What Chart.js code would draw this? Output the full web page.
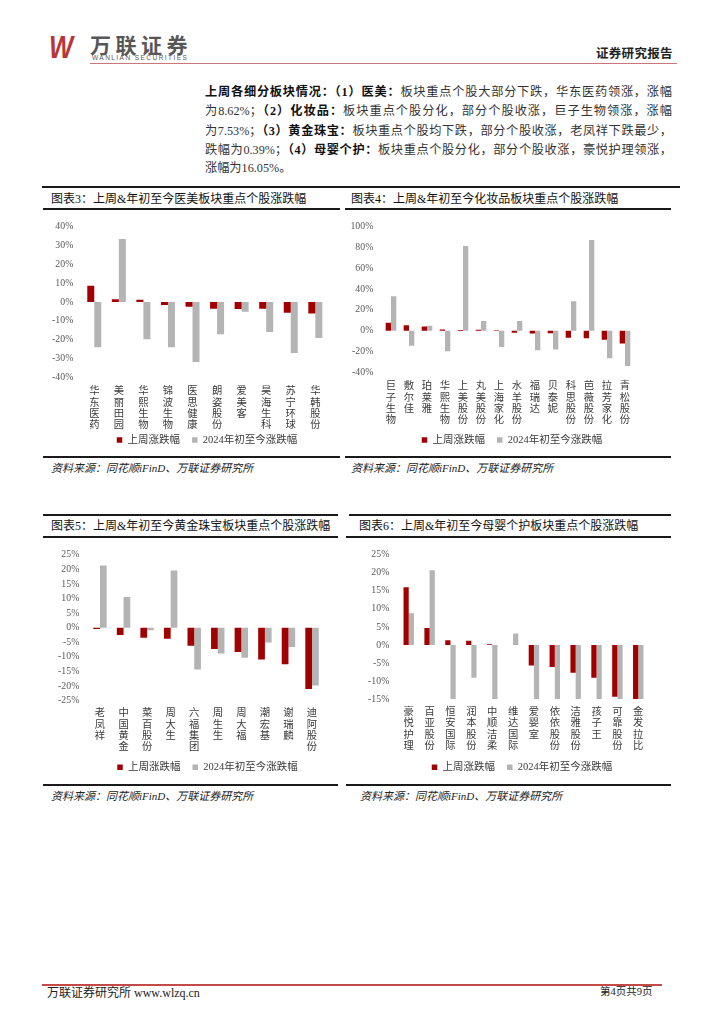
<!DOCTYPE html>
<html><head><meta charset="utf-8">
<script src="https://cdn.jsdelivr.net/npm/chart.js@4"></script>
<style>
body{margin:0;background:#fff;}
#page{position:relative;width:724px;height:1024px;overflow:hidden;font-family:"Liberation Serif","Noto Sans CJK SC",serif;color:#222;background:#fff;}
.abs{position:absolute;white-space:nowrap;}
.ln{position:absolute;background:#1a1a1a;}
.pl{position:absolute;left:205px;width:467px;font-size:12.2px;line-height:19.2px;height:19.2px;text-align:justify;text-align-last:justify;color:#333;}
.pl b{color:#111;}
.ttl{position:absolute;font-size:12px;line-height:16px;letter-spacing:0px;color:#111;white-space:nowrap;}
.src{position:absolute;font-size:11px;line-height:14px;font-style:italic;color:#222;white-space:nowrap;}
.cbox{position:absolute;}
</style></head>
<body><div id="page">
<!-- header -->
<div class="abs" style="left:49px;top:31px;font-family:'Liberation Sans';font-weight:bold;font-style:italic;font-size:32px;line-height:32px;color:#B83636;transform:scaleX(0.8);transform-origin:left top;">W</div>
<div class="abs" style="left:90px;top:34px;font-family:'Noto Sans CJK SC';font-weight:bold;font-size:21px;line-height:21px;letter-spacing:4.5px;color:#575757;">万联证券</div>
<div class="abs" style="left:92px;top:54px;font-family:'Liberation Sans';font-size:6.5px;line-height:7px;letter-spacing:1.45px;color:#555;">WANLIAN SECURITIES</div>
<div class="ln" style="left:90px;top:62.5px;width:587px;height:1.5px;background:#C9787A;"></div>
<div class="abs" style="left:596px;top:45px;font-family:'Noto Sans CJK SC';font-weight:bold;font-size:12.5px;line-height:16px;letter-spacing:0.3px;color:#222;">证券研究报告</div>

<!-- paragraph -->
<div class="pl" style="top:83px;"><b>上周各细分板块情况：（1）医美：</b>板块重点个股大部分下跌，华东医药领涨，涨幅</div>
<div class="pl" style="top:102.3px;">为8.62%；<b>（2）化妆品：</b>板块重点个股分化，部分个股收涨，巨子生物领涨，涨幅</div>
<div class="pl" style="top:121.6px;">为7.53%；<b>（3）黄金珠宝：</b>板块重点个股均下跌，部分个股收涨，老凤祥下跌最少，</div>
<div class="pl" style="top:140.6px;">跌幅为0.39%；<b>（4）母婴个护：</b>板块重点个股分化，部分个股收涨，豪悦护理领涨，</div>
<div class="pl" style="top:159.2px;text-align:left;text-align-last:left;">涨幅为16.05%。</div>
<div class="ln" style="left:42px;top:185.8px;width:638px;height:2.5px;"></div>

<!-- chart 3 frame -->
<div class="ttl" style="left:51px;top:190.5px;">图表3：上周&amp;年初至今医美板块重点个股涨跌幅</div>
<div class="ln" style="left:43px;top:208.3px;width:297px;height:1.8px;"></div>
<div class="ln" style="left:43px;top:455.8px;width:297px;height:1.8px;"></div>
<div class="src" style="left:51px;top:460.7px;">资料来源：同花顺iFinD、万联证券研究所</div>
<div class="cbox" id="c3"></div>

<!-- chart 4 frame -->
<div class="ttl" style="left:351px;top:190.5px;">图表4：上周&amp;年初至今化妆品板块重点个股涨跌幅</div>
<div class="ln" style="left:345px;top:208.3px;width:326px;height:1.8px;"></div>
<div class="ln" style="left:345px;top:455.8px;width:326px;height:1.8px;"></div>
<div class="src" style="left:351px;top:460.7px;">资料来源：同花顺iFinD、万联证券研究所</div>
<div class="cbox" id="c4"></div>

<!-- chart 5 frame -->
<div class="ln" style="left:43px;top:514.2px;width:295px;height:1.8px;"></div>
<div class="ttl" style="left:51px;top:518px;">图表5：上周&amp;年初至今黄金珠宝板块重点个股涨跌幅</div>
<div class="ln" style="left:43px;top:536.2px;width:295px;height:1.8px;"></div>
<div class="ln" style="left:43px;top:784.2px;width:295px;height:1.8px;"></div>
<div class="src" style="left:51px;top:789px;">资料来源：同花顺iFinD、万联证券研究所</div>
<div class="cbox" id="c5"></div>

<!-- chart 6 frame -->
<div class="ln" style="left:349px;top:514.2px;width:322px;height:1.8px;"></div>
<div class="ttl" style="left:359px;top:518px;">图表6：上周&amp;年初至今母婴个护板块重点个股涨跌幅</div>
<div class="ln" style="left:346px;top:536.2px;width:325px;height:1.8px;"></div>
<div class="ln" style="left:346px;top:784.2px;width:325px;height:1.8px;"></div>
<div class="src" style="left:360px;top:789px;">资料来源：同花顺iFinD、万联证券研究所</div>
<div class="cbox" id="c6"></div>

<!-- footer -->
<div class="ln" style="left:42px;top:984px;width:620px;height:2px;background:#C44A4A;"></div>
<div class="abs" style="left:47px;top:985px;font-size:12px;line-height:16px;color:#222;">万联证券研究所 www.wlzq.cn</div>
<div class="abs" style="left:600px;top:984px;font-size:10.5px;line-height:15px;color:#222;">第4页共9页</div>
</div>

<script>
// ---------- data ----------
const legendWeek = '上周涨跌幅';
const legendYtd = '2024年初至今涨跌幅';

const names3 = ['华东医药','美丽田园','华熙生物','锦波生物','医思健康','朗姿股份','爱美客','昊海生科','苏宁环球','华韩股份'];
const week3  = [8.62, 1.4, 1.2, -1.6, -2.6, -3.6, -3.8, -3.6, -5.7, -6.2];
const ytd3   = [-24.1, 33.4, -19.8, -24.0, -31.9, -17.1, -5.2, -16.0, -27.1, -19.1];
const ticks3 = {min: -40, max: 40, step: 10};

const names4 = ['巨子生物','敷尔佳','珀莱雅','华熙生物','上美股份','丸美股份','上海家化','水羊股份','福瑞达','贝泰妮','科思股份','芭薇股份','拉芳家化','青松股份'];
const week4  = [7.53, 5.3, 4.1, 1.2, 0.6, 0.8, 0.4, -1.9, -2.8, -2.5, -6.9, -7.2, -8.8, -12.3];
const ytd4   = [33.0, -14.5, 4.7, -19.8, 81.4, 9.4, -15.7, 9.4, -18.9, -18.2, 28.3, 87.1, -26.4, -34.0];
const ticks4 = {min: -40, max: 100, step: 20};

const names5 = ['老凤祥','中国黄金','菜百股份','周大生','六福集团','周生生','周大福','潮宏基','谢瑞麟','迪阿股份'];
const week5  = [-0.39, -2.5, -3.4, -3.8, -6.2, -7.3, -8.3, -10.9, -12.5, -21.0];
const ytd5   = [21.3, 10.5, -0.9, 19.6, -14.3, -8.8, -10.3, -5.1, -6.6, -19.8];
const ticks5 = {min: -25, max: 25, step: 5};

const names6 = ['豪悦护理','百亚股份','恒安国际','润本股份','中顺洁柔','维达国际','爱婴室','依依股份','洁雅股份','孩子王','可靠股份','金发拉比'];
const week6  = [16.05, 4.7, 1.3, 1.2, 0.2, 0, -5.7, -6.1, -7.7, -9.1, -14.4, -15.0];
const ytd6   = [8.8, 20.7, -15.0, -9.1, -15.0, 3.2, -15.0, -15.0, -15.0, -15.0, -15.0, -15.0];
const ticks6 = {min: -15, max: 25, step: 5};

// ---------- rendering ----------
const RED = '#A00000', GRAY = '#B4B4B4';
const FAM = '"Liberation Serif", "Noto Sans CJK SC", serif';
Chart.defaults.font.family = FAM;

const legendPos = {
  id: 'legendPos',
  afterLayout(chart, args, opts) {
    const lg = chart.legend; if (!lg) return;
    const w = lg.right - lg.left, h = lg.bottom - lg.top;
    lg.left = opts.cx - w / 2; lg.right = opts.cx + w / 2;
    lg.top = opts.cy - opts.lp - opts.fs / 2; lg.bottom = lg.top + h;
  }
};

function build(id, names, week, ytd, tk, g) {
  const FS = 10.5, LP = 12, XH = 56, LH = 11.3;
  const legH = FS + LP + 10;
  const ch = Math.ceil(g.pb - g.ct + XH + legH) + 2;
  const padB = ch - (g.pb - g.ct) - XH - legH;
  const box = document.getElementById(id);
  box.style.left = g.cl + 'px'; box.style.top = g.ct + 'px';
  box.style.width = g.cw + 'px'; box.style.height = ch + 'px';
  const cv = document.createElement('canvas'); box.appendChild(cv);
  new Chart(cv, {
    type: 'bar',
    data: {
      labels: names.map(n => n.split('')),
      datasets: [
        {label: legendWeek, data: week, backgroundColor: RED, borderWidth: 0, categoryPercentage: g.cp, barPercentage: 1},
        {label: legendYtd, data: ytd, backgroundColor: GRAY, borderWidth: 0, categoryPercentage: g.cp, barPercentage: 1}
      ]
    },
    options: {
      responsive: true, maintainAspectRatio: false, animation: false,
      layout: {padding: {left: 0, top: g.pt - g.ct, right: g.cl + g.cw - g.pr, bottom: padB}},
      scales: {
        x: {
          grid: {display: false, drawTicks: false}, border: {display: false},
          ticks: {autoSkip: false, maxRotation: 0, minRotation: 0,
            padding: g.xl - g.pb - LH / 2, color: '#3a3a3a',
            font: {family: '"Noto Sans CJK SC", sans-serif', size: 10.3, lineHeight: LH + 'px'}},
          afterFit(s) { s.height = XH; }
        },
        y: {
          min: tk.min, max: tk.max,
          grid: {display: false, drawTicks: false}, border: {display: false},
          ticks: {stepSize: tk.step, autoSkip: false, padding: g.pl - g.lr, color: '#595959',
            font: {family: FAM, size: 9.8}, callback: v => v + '%'},
          afterFit(s) { s.width = g.pl - g.cl; }
        }
      },
      plugins: {
        legend: {position: 'bottom',
          labels: {boxWidth: 5.5, boxHeight: 5.5, padding: LP, color: '#3a3a3a', font: {family: FAM, size: FS}}},
        tooltip: {enabled: false},
        legendPos: {cx: g.lx - g.cl, cy: g.ly - g.ct, lp: LP, fs: FS}
      }
    },
    plugins: [legendPos]
  });
}

build('c3', names3, week3, ytd3, ticks3,
  {cl: 42, ct: 212, cw: 298, pl: 82, pr: 327.6, pt: 222.7, pb: 377.3, lr: 73.3, xl: 390.5, lx: 207, ly: 440, cp: 0.57});
build('c4', names4, week4, ytd4, ticks4,
  {cl: 345, ct: 212, cw: 327, pl: 382, pr: 634, pt: 224, pb: 372.3, lr: 373.3, xl: 385.5, lx: 512, ly: 440, cp: 0.59});
build('c5', names5, week5, ytd5, ticks5,
  {cl: 42, ct: 540, cw: 296, pl: 88.2, pr: 323.8, pt: 551.7, pb: 700.7, lr: 79.3, xl: 712.5, lx: 207.5, ly: 767.3, cp: 0.57});
build('c6', names6, week6, ytd6, ticks6,
  {cl: 348, ct: 540, cw: 324, pl: 398.3, pr: 648.7, pt: 552.3, pb: 699, lr: 389.3, xl: 711, lx: 522, ly: 767.3, cp: 0.5});
</script>
</body></html>
